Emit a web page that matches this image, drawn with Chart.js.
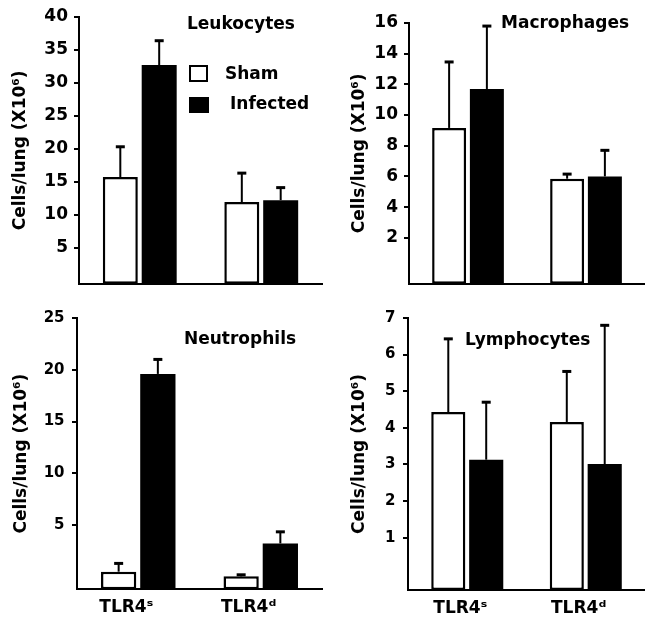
<!DOCTYPE html>
<html>
<head>
<meta charset="utf-8">
<script src="https://cdn.jsdelivr.net/npm/chart.js"></script>
<style>
    body {
        margin: 0;
        background: #fff;
        font-family: 'DejaVu Sans', sans-serif;
    }
    #wrap {
        position: relative;
        width: 645px;
        height: 620px;
        overflow: hidden;
    }
    canvas {
        position: absolute;
    }
    .ttl {
        position: absolute;
        font-weight: bold;
        font-size: 17px;
        line-height: 1;
        color: #000;
        white-space: nowrap;
    }
    .key {
        position: absolute;
        box-sizing: border-box;
        border: 2px solid #000;
    }
</style>
</head>
<body>
<div id="wrap">
    <canvas id="leuko" width="325" height="300" style="left:0;top:0"></canvas>
    <canvas id="macro" width="306" height="300" style="left:339px;top:0"></canvas>
    <canvas id="neutro" width="325" height="320" style="left:0;top:300px"></canvas>
    <canvas id="lympho" width="306" height="320" style="left:339px;top:300px"></canvas>

    <div class="ttl" style="left:187px;top:15px">Leukocytes</div>
    <div class="ttl" style="left:501px;top:14px">Macrophages</div>
    <div class="ttl" style="left:184px;top:330px">Neutrophils</div>
    <div class="ttl" style="left:465px;top:331px">Lymphocytes</div>

    <div class="key" style="left:189px;top:65px;width:19px;height:17px;background:#fff"></div>
    <div class="ttl" style="left:225px;top:65px">Sham</div>
    <div class="key" style="left:189px;top:97px;width:20px;height:16px;background:#000"></div>
    <div class="ttl" style="left:230px;top:95px">Infected</div>
</div>

<script>
    // groups on the x axis
    const groups = ['TLR4ˢ', 'TLR4ᵈ'];

    // leukocytes
    const leukoSham = [15.7, 11.9];
    const leukoShamErr = [4.6, 4.4];
    const leukoInf = [32.7, 12.2];
    const leukoInfErr = [3.7, 1.9];
    const leukoTicks = [5, 10, 15, 20, 25, 30, 35, 40];

    // macrophages
    const macroSham = [9.16, 5.85];
    const macroShamErr = [4.3, 0.3];
    const macroInf = [11.7, 6.0];
    const macroInfErr = [4.1, 1.7];
    const macroTicks = [2, 4, 6, 8, 10, 12, 14, 16];

    // neutrophils
    const neutroSham = [0.5, 0.05];
    const neutroShamErr = [0.8, 0.15];
    const neutroInf = [19.6, 3.23];
    const neutroInfErr = [1.4, 1.12];
    const neutroTicks = [5, 10, 15, 20, 25];

    // lymphocytes
    const lymphoSham = [4.43, 4.16];
    const lymphoShamErr = [2.0, 1.38];
    const lymphoInf = [3.13, 3.01];
    const lymphoInfErr = [1.57, 3.79];
    const lymphoTicks = [1, 2, 3, 4, 5, 6, 7];

    const fontFamily = "'DejaVu Sans', sans-serif";

    // upper error bars with a cap, placed with the chart's own y scale
    const errorBars = {
        id: 'errorBars',
        afterDatasetsDraw(chart) {
            const ctx = chart.ctx;
            const y = chart.scales.y;
            chart.data.datasets.forEach((ds, i) => {
                const meta = chart.getDatasetMeta(i);
                meta.data.forEach((bar, j) => {
                    const top = y.getPixelForValue(ds.data[j] + ds.errors[j]);
                    ctx.save();
                    ctx.strokeStyle = '#000';
                    ctx.lineWidth = 2;
                    ctx.beginPath();
                    ctx.moveTo(bar.x, bar.y);
                    ctx.lineTo(bar.x, top);
                    ctx.stroke();
                    ctx.lineWidth = 3;
                    ctx.beginPath();
                    ctx.moveTo(bar.x - 4.5, top);
                    ctx.lineTo(bar.x + 4.5, top);
                    ctx.stroke();
                    ctx.restore();
                });
            });
        }
    };

    function makePanel(id, p) {
        const ctx = document.getElementById(id).getContext('2d');
        return new Chart(ctx, {
            type: 'bar',
            data: {
                labels: groups,
                datasets: [{
                    label: 'Sham',
                    data: p.sham,
                    errors: p.shamErr,
                    base: p.min,
                    backgroundColor: '#fff',
                    borderColor: '#000',
                    borderWidth: 2.5,
                    borderSkipped: false
                }, {
                    label: 'Infected',
                    data: p.inf,
                    errors: p.infErr,
                    base: p.min,
                    backgroundColor: '#000',
                    borderWidth: 0
                }]
            },
            options: {
                responsive: false,
                animation: false,
                categoryPercentage: 0.64,
                barPercentage: 0.9,
                layout: {
                    padding: { left: 0, top: p.padTop, right: p.padRight, bottom: p.padBottom }
                },
                plugins: {
                    legend: { display: false },
                    tooltip: { enabled: false }
                },
                scales: {
                    x: {
                        grid: { display: false },
                        border: { color: '#000', width: 2 },
                        ticks: {
                            display: p.showX,
                            color: '#000',
                            padding: 0,
                            labelOffset: p.labelOffset,
                            maxRotation: 0,
                            font: { family: fontFamily, size: 17, weight: 'bold' }
                        },
                        afterFit: s => { s.height = p.xHeight; }
                    },
                    y: {
                        min: p.min,
                        max: p.max,
                        grid: {
                            drawOnChartArea: false,
                            color: '#000',
                            lineWidth: 2,
                            tickLength: 5
                        },
                        border: { color: '#000', width: 2 },
                        ticks: {
                            color: '#000',
                            padding: p.tickPad,
                            font: { family: fontFamily, size: p.tickSize, weight: 'bold' }
                        },
                        afterBuildTicks: s => { s.ticks = p.ticks.map(v => ({ value: v })); },
                        afterFit: s => { s.width = p.axisW; },
                        title: {
                            display: true,
                            text: 'Cells/lung (X10⁶)',
                            color: '#000',
                            padding: { top: p.titlePad, bottom: 0 },
                            font: { family: fontFamily, size: 17, weight: 'bold' }
                        }
                    }
                }
            },
            plugins: [errorBars]
        });
    }

    makePanel('leuko', {
        sham: leukoSham, shamErr: leukoShamErr, inf: leukoInf, infErr: leukoInfErr,
        ticks: leukoTicks, min: -0.5, max: 40,
        axisW: 79, padTop: 17, padRight: 3, padBottom: 7.5, xHeight: 0,
        showX: false, labelOffset: 0, tickSize: 17, tickPad: 6, titlePad: 10
    });

    makePanel('macro', {
        sham: macroSham, shamErr: macroShamErr, inf: macroInf, infErr: macroInfErr,
        ticks: macroTicks, min: -1, max: 16,
        axisW: 70, padTop: 23, padRight: 0, padBottom: 8, xHeight: 0,
        showX: false, labelOffset: 0, tickSize: 17, tickPad: 6, titlePad: 10
    });

    makePanel('neutro', {
        sham: neutroSham, shamErr: neutroShamErr, inf: neutroInf, infErr: neutroInfErr,
        ticks: neutroTicks, min: -1.2, max: 25,
        axisW: 77, padTop: 18, padRight: 3, padBottom: 0, xHeight: 30.7,
        showX: true, labelOffset: -12, tickSize: 15, tickPad: 7.5, titlePad: 11
    });

    makePanel('lympho', {
        sham: lymphoSham, shamErr: lymphoShamErr, inf: lymphoInf, infErr: lymphoInfErr,
        ticks: lymphoTicks, min: -0.43, max: 7,
        axisW: 69, padTop: 18, padRight: 0, padBottom: 0, xHeight: 30,
        showX: true, labelOffset: -7, tickSize: 15, tickPad: 7.5, titlePad: 10
    });
</script>
</body>
</html>
